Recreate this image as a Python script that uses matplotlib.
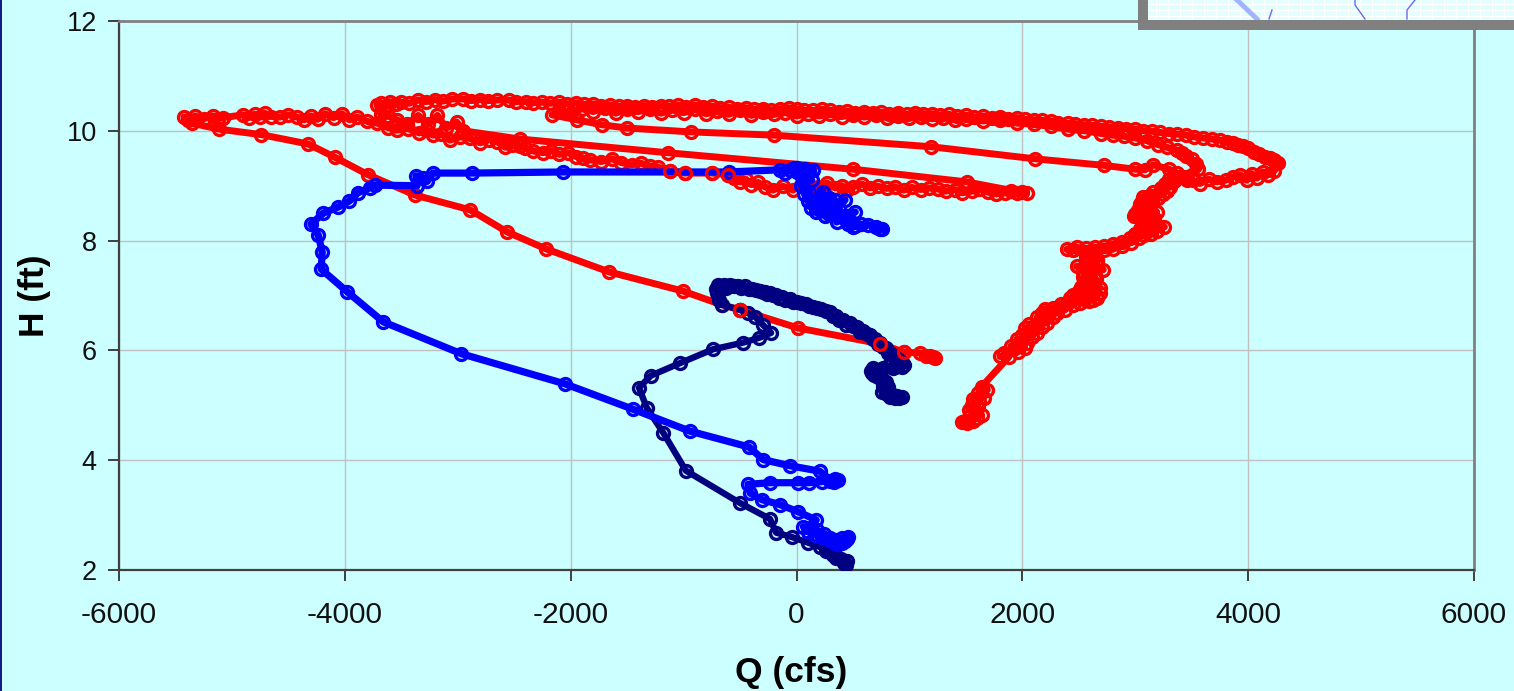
import matplotlib
matplotlib.use('Agg')
import matplotlib.pyplot as plt
from matplotlib.patches import Rectangle

plt.rcParams['font.family'] = ['Liberation Sans', 'DejaVu Sans']
plt.rcParams['axes.unicode_minus'] = False

# navy loop, from the low end up to the tail at about 900 cfs
navy_q = [440, 420, 450, 390, 410, 360, 325, 350, 265, 300, 205, 100, -40, -180, -235, -500, -980, -1180, -1325, -1395,
          -1290, -1030, -740, -475, -330, -225, -295, -365, -430, -500, -660, -690, -705, -715, -690, -695, -670, -640,
          -620, -590, -550, -520, -490, -455, -420, -390, -360, -325, -300, -280, -260, -235, -210, -180, -155, -130,
          -100, -60, -30, 5, 40, 80, 115, 150, 185, 220, 260, 295, 320, 350, 380, 410, 440, 470, 500, 535, 560, 590,
          620, 650, 675, 695, 720, 740, 765, 790, 810, 830, 860, 880, 905, 930, 950, 930, 900, 870, 855, 810, 770,
          720, 675, 660, 670, 690, 720, 745, 765, 790, 770, 810, 780, 755, 790, 800, 830, 855, 870, 890, 910, 930]
navy_h = [2.1, 2.13, 2.17, 2.2, 2.17, 2.24, 2.28, 2.22, 2.35, 2.32, 2.42, 2.5, 2.6, 2.68, 2.93, 3.22, 3.81, 4.5, 4.95, 5.32,
          5.54, 5.77, 6.02, 6.14, 6.23, 6.32, 6.46, 6.61, 6.68, 6.74, 6.83, 6.92, 7.05, 7.12, 7.17, 7.19, 7.12, 7.2,
          7.13, 7.19, 7.17, 7.18, 7.13, 7.17, 7.12, 7.12, 7.1, 7.08, 7.06, 7.07, 7.03, 7.05, 7.0, 7.01, 6.96, 6.97,
          6.92, 6.93, 6.89, 6.88, 6.87, 6.84, 6.8, 6.79, 6.78, 6.75, 6.72, 6.7, 6.62, 6.62, 6.56, 6.55, 6.47, 6.49,
          6.44, 6.43, 6.33, 6.36, 6.3, 6.28, 6.2, 6.21, 6.12, 6.14, 6.06, 6.05, 5.96, 5.95, 5.9, 5.87, 5.82, 5.79,
          5.74, 5.7, 5.74, 5.7, 5.68, 5.72, 5.68, 5.65, 5.68, 5.62, 5.59, 5.55, 5.52, 5.49, 5.46, 5.43, 5.36, 5.33,
          5.3, 5.24, 5.22, 5.2, 5.16, 5.19, 5.14, 5.17, 5.13, 5.15]

# blue loop
blue_q = [456, 430, 400, 445, 370, 345, 400, 295, 340, 240, 290, 180, 225, 120, 165, 60, 100, 175, 15, -145, -305, -410,
          -430, -235, 15, 110, 225, 300, 340, 370, 330, 205, -60, -295, -420, -945, -1450, -2050, -2970, -3660, -3980,
          -4210, -4200, -4235, -4300, -4190, -4060, -3960, -3885, -3780, -3730, -3360, -3370, -3305, -3270, -3220,
          -2875, -2065, -600, -145, -100, -60, -20, 5, 40, 75, 110, 145, 40, 0, 135, 60, 120, 40, 165, 70, 205, 100,
          235, 130, 290, 170, 340, 210, 290, 430, 250, 380, 320, 520, 355, 400, 430, 290, 470, 500, 460, 570, 520,
          635, 700, 740, 755]
blue_h = [2.6, 2.53, 2.5, 2.56, 2.48, 2.54, 2.58, 2.59, 2.5, 2.66, 2.54, 2.73, 2.6, 2.76, 2.64, 2.79, 2.7, 2.91, 3.06,
          3.19, 3.28, 3.4, 3.56, 3.59, 3.59, 3.59, 3.61, 3.62, 3.65, 3.64, 3.6, 3.8, 3.9, 4.01, 4.24, 4.53, 4.93, 5.39,
          5.94, 6.52, 7.07, 7.48, 7.79, 8.1, 8.3, 8.5, 8.61, 8.72, 8.87, 8.96, 9.01, 9.0, 9.18, 9.14, 9.08, 9.23,
          9.23, 9.25, 9.25, 9.29, 9.24, 9.29, 9.33, 9.32, 9.27, 9.31, 9.26, 9.29, 9.2, 9.25, 9.1, 9.1, 8.87, 9.0,
          8.69, 8.85, 8.59, 8.72, 8.89, 8.6, 8.78, 8.52, 8.74, 8.55, 8.6, 8.74, 8.45, 8.6, 8.5, 8.52, 8.34, 8.45, 8.4,
          8.48, 8.36, 8.25, 8.3, 8.3, 8.26, 8.29, 8.24, 8.22, 8.21]

# red loop, split in legs to keep the list readable
red_rise_q = [1210, 1230, 1180, 1150, 1095, 950, 740, 10, -500, -660, -1005, -1660, -2220, -2565, -2890, -3380, -3795,
              -4090, -4325, -4740, -5115, -5355, -5425]
red_rise_h = [5.88, 5.86, 5.9, 5.9, 5.95, 5.97, 6.12, 6.41, 6.74, 6.83, 7.08, 7.43, 7.85, 8.16, 8.56, 8.83, 9.2,
              9.52, 9.76, 9.93, 10.03, 10.14, 10.25]
red_back_q = [-5390, -5325, -5250, -5170, -5125, -5080, -4900, -4850, -4800, -4750, -4710, -4650, -4575, -4500, -4425,
              -4360, -4300, -4240, -4175, -4100, -4025, -3960, -3890, -3800, -3715, -3620, -3540, -3440, -3340, -3280,
              -3220, -3150, -3070, -2980, -2890, -2800, -2720, -2650, -2580, -2520, -2450, -2405, -2330, -2245, -2170,
              -2100, -2020, -1950, -1890, -1830, -1730, -1635, -1550, -1460, -1380, -1300, -1230, -1120, -990, -750,
              -610, -550, -500, -450, -400, -340, -280, -210, -120, -30, 40, 100, 190, 270, 340, 400, 450, 500, 580,
              650, 720, 800, 870, 950, 1020, 1100, 1170, 1250, 1320, 1400, 1470, 1550, 1620, 1700, 1770, 1850, 1900,
              1950, 2000, 2038]
red_back_h = [10.19, 10.27, 10.22, 10.27, 10.22, 10.24, 10.29, 10.24, 10.3, 10.25, 10.32, 10.26, 10.25, 10.29, 10.25,
              10.2, 10.27, 10.21, 10.31, 10.24, 10.31, 10.2, 10.25, 10.17, 10.14, 10.06, 10.01, 10.04, 9.96, 10.02,
              9.92, 9.95, 9.83, 9.89, 9.86, 9.78, 9.84, 9.8, 9.7, 9.75, 9.72, 9.69, 9.63, 9.6, 9.64, 9.57, 9.6, 9.53,
              9.5, 9.47, 9.44, 9.49, 9.42, 9.38, 9.41, 9.36, 9.34, 9.27, 9.23, 9.23, 9.2, 9.14, 9.07, 9.12, 9.02, 9.06,
              8.98, 8.92, 8.99, 8.92, 9.02, 9.0, 8.97, 9.05, 8.96, 9.0, 8.93, 8.98, 9.03, 8.96, 8.99, 8.95, 8.98, 8.92,
              8.97, 8.93, 8.96, 8.94, 8.9, 8.93, 8.87, 8.9, 8.94, 8.88, 8.85, 8.87, 8.91, 8.86, 8.88, 8.86]
red_line_q = [1507, 500, -1137, -2450, -2950, -3010, -3100, -3180, -3260, -3350, -3450, -3540, -3610, -3680, -3715]
red_line_h = [9.07, 9.3, 9.6, 9.85, 10.0, 10.16, 10.05, 10.28, 10.12, 10.28, 10.12, 10.2, 10.26, 10.3, 10.47]
red_top_q = [-3680, -3620, -3600, -3550, -3500, -3430, -3350, -3280, -3200, -3130, -3050, -2950, -2880, -2800, -2730,
             -2650, -2550, -2480, -2400, -2330, -2250, -2180, -2100, -2030, -1950, -1880, -1800, -1730, -1650, -1570,
             -1500, -1430, -1350, -1280, -1200, -1130, -1050, -980, -900, -830, -750, -680, -600, -530, -450, -380,
             -300, -230, -150, -70, 0, 70, 150, 230, 300, 380, 450, 520, 600, 680, 750, 820, 900, 980, 1050, 1120, 1200,
             1270, 1350, 1420, 1500, 1570, 1650, 1730, 1800, 1870, 1950, 2020, 2100, 2170, 2250, 2320, 2400, 2470, 2550,
             2620, 2700, 2770, 2850, 2920, 3000, 3070, 3150, 3220, 3300, 3370, 3450, 3520, 3600, 3680, 3750, 3810, 3870,
             3910, 3950, 4000, 4050, 4100, 4150, 4190, 4230, 4250, 4267]
red_top_h = [10.5, 10.45, 10.53, 10.48, 10.52, 10.5, 10.56, 10.53, 10.57, 10.54, 10.58, 10.58, 10.55, 10.57, 10.55,
             10.56, 10.56, 10.53, 10.53, 10.51, 10.52, 10.5, 10.52, 10.49, 10.51, 10.48, 10.49, 10.46, 10.47, 10.45,
             10.46, 10.44, 10.46, 10.44, 10.46, 10.45, 10.47, 10.44, 10.47, 10.44, 10.45, 10.42, 10.43, 10.4, 10.42,
             10.39, 10.4, 10.38, 10.4, 10.42, 10.4, 10.37, 10.37, 10.39, 10.37, 10.35, 10.36, 10.33, 10.35, 10.33, 10.34,
             10.31, 10.33, 10.3, 10.33, 10.3, 10.31, 10.28, 10.3, 10.27, 10.28, 10.25, 10.27, 10.24, 10.25, 10.22, 10.24,
             10.21, 10.2, 10.19, 10.18, 10.15, 10.14, 10.13, 10.11, 10.1, 10.08, 10.07, 10.06, 10.04, 10.03, 10.0, 9.99,
             9.97, 9.95, 9.94, 9.92, 9.89, 9.87, 9.85, 9.83, 9.8, 9.78, 9.74, 9.72, 9.68, 9.62, 9.58, 9.52, 9.5, 9.46,
             9.42, 9.41]
red_turn_q = [4230, 4179, 4130, 4080, 4030, 3987, 3930, 3869, 3800, 3721, 3650, 3573, 3510, 3455, 3400, 3367, 3300,
              3160, 3086, 2998, 2726, 2110, 1190, -195, -935, -1500, -1725, -1945, -2165]
red_turn_h = [9.27, 9.2, 9.25, 9.14, 9.22, 9.1, 9.2, 9.16, 9.1, 9.07, 9.12, 9.04, 9.1, 9.1, 9.16, 9.23, 9.3,
              9.38, 9.29, 9.3, 9.37, 9.49, 9.71, 9.92, 9.98, 10.05, 10.11, 10.2, 10.29]
red_inner_q = [-2100, -2000, -1900, -1800, -1700, -1600, -1500, -1400, -1300, -1200, -1100, -1000, -900, -800, -700,
               -600, -500, -400, -300, -200, -100, 0, 100, 200, 300, 400, 500, 600, 700, 800, 900, 1000, 1100, 1200,
               1300, 1400, 1500, 1650, 1800, 1950, 2100, 2250, 2400, 2550, 2700, 2800, 2900, 3000, 3100, 3200, 3280,
               3367, 3410, 3450, 3500, 3540, 3560, 3500, 3440]
red_inner_h = [10.36, 10.33, 10.4, 10.35, 10.42, 10.32, 10.4, 10.35, 10.4, 10.32, 10.38, 10.33, 10.39, 10.31, 10.36,
               10.3, 10.37, 10.28, 10.34, 10.3, 10.33, 10.27, 10.31, 10.27, 10.3, 10.26, 10.29, 10.25, 10.28, 10.24,
               10.27, 10.23, 10.26, 10.22, 10.24, 10.2, 10.22, 10.18, 10.2, 10.14, 10.12, 10.08, 10.03, 10.0, 9.95, 9.92,
               9.9, 9.87, 9.82, 9.75, 9.7, 9.65, 9.6, 9.55, 9.48, 9.4, 9.3, 9.2, 9.15]
red_down_q = [3300, 3340, 3260, 3310, 3230, 3280, 3160, 3250, 3120, 3200, 3070, 3150, 3060, 3140, 3040, 3130, 3020,
              3110, 3190, 3000, 3100, 3170, 2985, 3080, 3170, 3258, 3180, 3100, 3040, 3120, 3190, 3000, 3080, 3140,
              2950, 3030, 2880, 2960, 2800, 2880, 2720, 2800, 2640, 2720, 2560, 2640, 2480, 2393, 2450, 2560, 2640,
              2560, 2660, 2560, 2660, 2480, 2560, 2717, 2620, 2540, 2640, 2540, 2650, 2560, 2688, 2600, 2520, 2620,
              2690, 2500, 2600, 2658, 2450, 2550, 2630, 2420, 2510, 2590, 2340, 2450, 2270, 2380, 2200, 2310, 2170,
              2270, 2130, 2220, 2060, 2170, 2024, 2130, 2000, 2090, 1950, 2040, 1900, 2020, 1840, 1960, 1802, 1880,
              1640, 1690, 1610, 1660, 1560, 1620, 1550, 1610, 1525, 1590, 1640, 1540, 1600, 1490, 1560, 1463, 1507]
red_down_h = [9.12, 9.08, 9.03, 8.98, 8.95, 8.9, 8.88, 8.84, 8.82, 8.78, 8.8, 8.73, 8.72, 8.66, 8.66, 8.6, 8.56,
              8.54, 8.52, 8.48, 8.46, 8.42, 8.44, 8.38, 8.36, 8.25, 8.28, 8.3, 8.22, 8.2, 8.18, 8.12, 8.1, 8.12,
              8.04, 8.04, 7.98, 7.96, 7.94, 7.9, 7.9, 7.84, 7.88, 7.82, 7.86, 7.8, 7.88, 7.84, 7.83, 7.78, 7.72,
              7.7, 7.64, 7.62, 7.56, 7.53, 7.52, 7.47, 7.46, 7.42, 7.38, 7.34, 7.3, 7.26, 7.14, 7.18, 7.16, 7.08,
              7.04, 7.08, 7.02, 6.96, 7.0, 6.94, 6.92, 6.95, 6.86, 6.9, 6.85, 6.82, 6.78, 6.74, 6.76, 6.68, 6.68,
              6.6, 6.6, 6.5, 6.48, 6.42, 6.4, 6.32, 6.28, 6.24, 6.2, 6.14, 6.08, 6.05, 5.96, 5.97, 5.89, 5.88,
              5.34, 5.28, 5.22, 5.14, 5.12, 5.06, 5.0, 4.96, 4.92, 4.87, 4.82, 4.8, 4.76, 4.72, 4.71, 4.7, 4.68]
# red points that sit on top of the blue and navy lines
red_over_q = [950, 740, -500, -1120, -990, -750, -610]
red_over_h = [5.97, 6.12, 6.74, 9.27, 9.23, 9.23, 9.2]

red_q = red_rise_q + red_back_q + red_line_q + red_top_q + red_turn_q + red_inner_q + red_down_q
red_h = red_rise_h + red_back_h + red_line_h + red_top_h + red_turn_h + red_inner_h + red_down_h

x_ticks = [-6000, -4000, -2000, 0, 2000, 4000, 6000]
y_ticks = [2, 4, 6, 8, 10, 12]

# bits of the map picture that hang into the top right corner, in pixels
map_thick_x = [1237, 1257]
map_thick_y = [0, 19]
map_lines_x = [[1272, 1269], [1355, 1355, 1365], [1415, 1407, 1407]]
map_lines_y = [[10, 19], [0, 5, 19], [0, 10, 19]]

W, H = 1514, 691
bg = '#CCFFFF'
fig = plt.figure(figsize=(W / 100, H / 100), dpi=100, facecolor=bg)
ax = fig.add_axes([119 / W, 1 - 570 / H, (1474 - 119) / W, (570 - 21) / H], facecolor=bg)

line_style = dict(marker='o', markersize=8.6, markerfacecolor='none', markeredgewidth=2.4)
ax.plot(red_q, red_h, color='#FF0000', lw=5.0, zorder=3, **line_style)
ax.plot(navy_q, navy_h, color='#000080', lw=4.6, zorder=4, **line_style)
ax.plot(blue_q, blue_h, color='#0000FF', lw=5.2, zorder=5, **line_style)
ax.plot(red_over_q, red_over_h, ls='none', color='#FF0000', zorder=6, **line_style)

ax.set_xlim(-6000, 6000)
ax.set_ylim(2, 12)
ax.set_xticks(x_ticks)
ax.set_yticks(y_ticks)
ax.grid(True, color='#C0C0C0', lw=1.0)
ax.set_axisbelow(True)
ax.tick_params(length=8, width=1.4, color='#404040', labelcolor='#111111')
ax.tick_params(axis='x', labelsize=21.5, pad=14)
ax.tick_params(axis='y', labelsize=19.5, pad=8)
for side in ['left', 'bottom']:
    ax.spines[side].set_color('#404040')
    ax.spines[side].set_linewidth(1.6)
for side in ['top', 'right']:
    ax.spines[side].set_color('#808080')
    ax.spines[side].set_linewidth(2.0)
ax.set_xlabel('Q (cfs)', fontsize=25.5, fontweight='bold', va='center')
ax.xaxis.set_label_coords(0.496, -0.186)
ax.set_ylabel('H (ft)', fontsize=25.5, fontweight='bold', va='center')
ax.yaxis.set_label_coords(-0.062, 0.5)

# navy strip on the left page edge
fig.add_artist(Rectangle((0, 0), 2 / W, 1, transform=fig.transFigure, color='#1A1A8C', lw=0))

# inset map corner: grey frame and pale picture
fig.add_artist(Rectangle((1138 / W, 1 - 30 / H), (W - 1138) / W, 30 / H, transform=fig.transFigure,
                         color='#808080', lw=0, zorder=10))
pic = fig.add_axes([1148 / W, 1 - 20 / H, (W - 1148) / W, 20 / H], facecolor='#E4FFFF', zorder=11)
pic.set_xlim(1148, W)
pic.set_ylim(20, 0)
pic.set_xticks(range(1156, W, 12))
pic.set_yticks([4, 10, 16])
pic.tick_params(length=0, labelbottom=False, labelleft=False)
pic.grid(True, color='white', lw=0.8)
for side in pic.spines.values():
    side.set_visible(False)
pic.plot(map_thick_x, map_thick_y, color='#A0B4FF', lw=3.5)
for xs, ys in zip(map_lines_x, map_lines_y):
    pic.plot(xs, ys, color='#6A6AF0', lw=1.0)

fig.savefig('out.png', dpi=100, facecolor=bg)
